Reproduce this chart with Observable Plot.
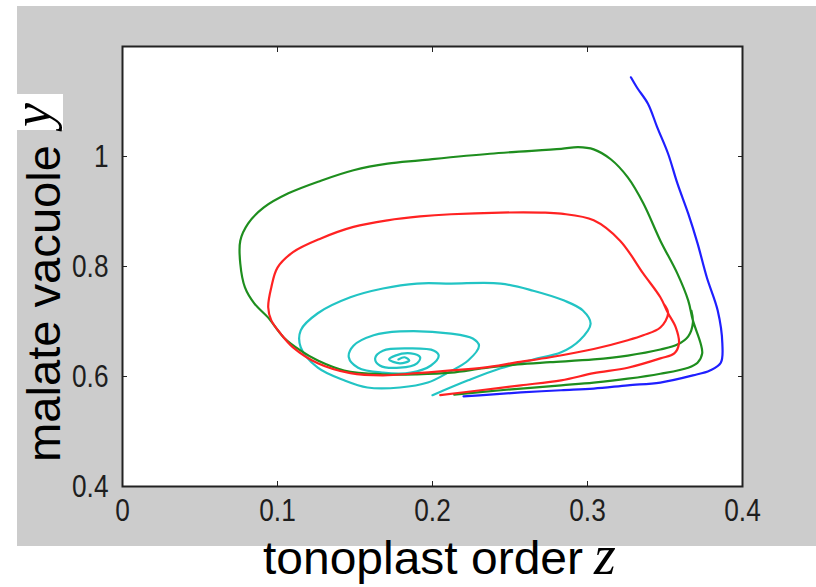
<!DOCTYPE html>
<html>
<head>
<meta charset="utf-8">
<script src="https://cdn.jsdelivr.net/npm/d3@7"></script>
<script src="https://cdn.jsdelivr.net/npm/@observablehq/plot@0.6"></script>
<style>
  body { margin: 0; background: #ffffff; }
  #chart svg { display: block; }
</style>
</head>
<body>
<div id="chart"></div>
<script>
// Axis ticks
const xTicks = [0, 0.1, 0.2, 0.3, 0.4];
const yTicks = [0.4, 0.6, 0.8, 1];

// Trajectories in the (tonoplast order z, malate vacuole y) plane
const blueZ = [0.328,0.332,0.339,0.345,0.352,0.358,0.365,0.371,0.377,0.384,0.387,0.386,0.379,0.368,0.347,0.326,0.304,0.283,0.257,0.237,0.220];
const blueY = [1.144,1.125,1.096,1.053,1.005,0.951,0.896,0.842,0.780,0.720,0.660,0.625,0.611,0.602,0.589,0.584,0.578,0.575,0.571,0.567,0.564];

const greenZ = [0.214,0.244,0.283,0.304,0.326,0.347,0.365,0.371,0.374,0.373,0.368,0.365,0.358,0.347,0.336,0.326,0.315,0.304,0.294,0.283,0.237,0.192,0.171,0.149,0.128,0.107,0.091,0.081,0.076,0.076,0.079,0.085,0.094,0.104,0.115,0.126,0.143,0.168,0.190,0.212,0.233,0.255,0.276,0.304,0.326,0.347,0.358,0.365,0.368,0.367];
const greenY = [0.567,0.575,0.584,0.589,0.596,0.605,0.616,0.625,0.642,0.660,0.702,0.738,0.787,0.847,0.915,0.962,0.995,1.013,1.017,1.014,1.005,0.993,0.987,0.975,0.956,0.933,0.907,0.878,0.847,0.805,0.762,0.733,0.707,0.671,0.647,0.629,0.611,0.604,0.604,0.607,0.615,0.622,0.626,0.631,0.638,0.649,0.658,0.673,0.698,0.720];

const redZ = [0.205,0.231,0.257,0.283,0.304,0.326,0.347,0.356,0.359,0.357,0.352,0.347,0.336,0.321,0.304,0.283,0.270,0.244,0.212,0.192,0.171,0.149,0.128,0.110,0.100,0.096,0.094,0.096,0.102,0.110,0.126,0.147,0.168,0.190,0.212,0.233,0.255,0.276,0.304,0.326,0.336,0.347,0.352,0.349];
const redY = [0.566,0.575,0.584,0.593,0.606,0.616,0.633,0.642,0.660,0.689,0.715,0.744,0.787,0.847,0.884,0.896,0.898,0.898,0.895,0.891,0.884,0.872,0.851,0.826,0.798,0.762,0.726,0.702,0.678,0.653,0.624,0.606,0.602,0.606,0.611,0.616,0.626,0.635,0.650,0.666,0.675,0.689,0.715,0.733];

const cyanZ = [0.200,0.223,0.244,0.265,0.283,0.295,0.302,0.297,0.285,0.265,0.244,0.212,0.190,0.168,0.147,0.126,0.115,0.115,0.126,0.143,0.158,0.179,0.197,0.210,0.223,0.230,0.226,0.212,0.179,0.162,0.149,0.146,0.152,0.168,0.186,0.199,0.204,0.201,0.186,0.168,0.163,0.166,0.179,0.190,0.192,0.186,0.176,0.172,0.179,0.185,0.182,0.178];
const cyanY = [0.566,0.593,0.615,0.631,0.644,0.666,0.696,0.720,0.738,0.756,0.769,0.769,0.769,0.760,0.744,0.715,0.684,0.653,0.616,0.593,0.580,0.580,0.589,0.607,0.629,0.656,0.669,0.678,0.682,0.675,0.656,0.635,0.616,0.607,0.607,0.620,0.638,0.647,0.651,0.647,0.633,0.620,0.616,0.624,0.635,0.642,0.638,0.631,0.624,0.629,0.635,0.631];

const series = [
  {z: cyanZ, y: cyanY, color: "#22c4c4"},
  {z: blueZ, y: blueY, color: "#1f1fff"},
  {z: greenZ, y: greenY, color: "#1e8e1e"},
  {z: redZ, y: redY, color: "#ff2222"}
];

const tickFont = "'Liberation Sans', Arial, sans-serif";
const tickSizePx = 32;
const fmt = d => `${d}`;

const plot = Plot.plot({
  width: 816,
  height: 587,
  marginLeft: 122,
  marginRight: 74,
  marginTop: 46,
  marginBottom: 101,
  style: {background: "transparent", color: "#222"},
  x: {domain: [0, 0.4]},
  y: {domain: [0.4, 1.2]},
  marks: [
    Plot.frame({fill: "white"}),
    ...series.map(s => Plot.line(s.z.map((z, i) => [z, s.y[i]]), {
      stroke: s.color, strokeWidth: 2.2, curve: "catmull-rom"
    })),
    // inward ticks on all four sides
    Plot.axisX({ticks: xTicks, anchor: "bottom", tickSize: -5, tickFormat: () => "", label: null, stroke: "#222"}),
    Plot.axisX({ticks: xTicks, anchor: "top", tickSize: -5, tickFormat: () => "", label: null, stroke: "#222"}),
    Plot.axisY({ticks: yTicks, anchor: "left", tickSize: -5, tickFormat: () => "", label: null, stroke: "#222"}),
    Plot.axisY({ticks: yTicks, anchor: "right", tickSize: -5, tickFormat: () => "", label: null, stroke: "#222"}),
    // tick labels
    Plot.axisX({ticks: xTicks, anchor: "bottom", tickSize: 0, tickPadding: 12, tickFormat: fmt, label: null,
      fontSize: tickSizePx, fontFamily: tickFont, fill: "#1e1e1e"}),
    Plot.axisY({ticks: yTicks, anchor: "left", tickSize: 0, tickPadding: 14, tickFormat: fmt, label: null,
      fontSize: tickSizePx, fontFamily: tickFont, fill: "#1e1e1e"}),
    Plot.frame({stroke: "#222", strokeWidth: 2})
  ]
});

const svg = d3.select(plot);

// condensed look for tick labels: squeeze each label to 82% of its natural width
svg.selectAll('g[aria-label="x-axis tick label"] text, g[aria-label="y-axis tick label"] text').each(function() {
  const s = this.textContent;
  if (!s) return;
  const em = [...s].reduce((w, c) => w + (c === "." ? 0.278 : 0.556), 0);
  d3.select(this)
    .attr("textLength", (em * tickSizePx * 0.82).toFixed(1))
    .attr("lengthAdjust", "spacingAndGlyphs");
});

// figure background
svg.insert("rect", ":first-child")
  .attr("x", 17).attr("y", 6).attr("width", 799).attr("height", 540)
  .attr("fill", "#cccccc");

// axis titles
svg.append("text")
  .attr("transform", "translate(60,462) rotate(-90)")
  .attr("text-anchor", "start")
  .attr("font-family", "'Liberation Sans', Arial, sans-serif")
  .attr("font-size", 46)
  .attr("fill", "#000")
  .attr("textLength", 317)
  .attr("lengthAdjust", "spacingAndGlyphs")
  .text("malate vacuole");

svg.append("rect")
  .attr("x", 17).attr("y", 94).attr("width", 46).attr("height", 36)
  .attr("fill", "#ffffff");
svg.append("text")
  .attr("transform", "translate(50,127) rotate(-90)")
  .attr("text-anchor", "start")
  .attr("font-family", "'Liberation Serif', 'DejaVu Serif', serif")
  .attr("font-style", "italic")
  .attr("font-size", 54)
  .attr("fill", "#000")
  .text("y");

svg.append("text")
  .attr("x", 263).attr("y", 574)
  .attr("text-anchor", "start")
  .attr("font-family", "'Liberation Sans', Arial, sans-serif")
  .attr("font-size", 46)
  .attr("fill", "#000")
  .attr("textLength", 320)
  .attr("lengthAdjust", "spacingAndGlyphs")
  .text("tonoplast order");
svg.append("text")
  .attr("x", 594).attr("y", 574)
  .attr("text-anchor", "start")
  .attr("font-family", "'Liberation Serif', 'DejaVu Serif', serif")
  .attr("font-style", "italic")
  .attr("font-size", 56)
  .attr("fill", "#000")
  .text("z");

document.getElementById("chart").append(plot);
</script>
</body>
</html>
